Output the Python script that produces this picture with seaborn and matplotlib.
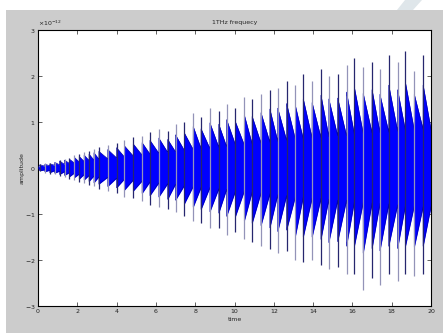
import numpy as np
import matplotlib
matplotlib.use("Agg")
import matplotlib.pyplot as plt
import seaborn as sns
from matplotlib.patches import Rectangle, Polygon

# burst onsets (time) and amplitudes, in units of 1e-12
onset = [0.1, 0.35, 0.6, 0.85, 1.1, 1.35, 1.6, 1.85, 2.1, 2.35, 2.6, 2.85,
         3.1, 3.55, 4.0, 4.4, 4.85, 5.3, 5.7, 6.15, 6.6, 7.0, 7.45, 7.9, 8.3,
         8.75, 9.2, 9.6, 10.05, 10.5, 10.9, 11.35, 11.8, 12.2, 12.65, 13.1,
         13.5, 13.95, 14.4, 14.8, 15.25, 15.7, 16.1, 16.55, 17.0, 17.4, 17.85,
         18.3, 18.7, 19.15, 19.6]
spike_hi = [0.08, 0.1, 0.1, 0.14, 0.18, 0.2, 0.22, 0.28, 0.3, 0.35, 0.38, 0.42,
            0.45, 0.5, 0.55, 0.6, 0.68, 0.7, 0.78, 0.85, 0.8, 0.95, 1.0, 1.2,
            1.1, 1.3, 1.25, 1.4, 1.3, 1.55, 1.5, 1.6, 1.7, 1.75, 1.9, 1.8,
            2.05, 1.9, 2.15, 2.0, 2.05, 2.25, 2.4, 2.2, 2.3, 2.15, 2.45, 2.3,
            2.55, 2.1, 2.45]
spike_lo = [-0.07, -0.1, -0.12, -0.13, -0.17, -0.2, -0.24, -0.26, -0.3, -0.32,
            -0.36, -0.4, -0.45, -0.5, -0.55, -0.62, -0.65, -0.72, -0.8, -0.85,
            -0.9, -0.95, -1.05, -1.15, -1.2, -1.3, -1.3, -1.45, -1.4, -1.55,
            -1.6, -1.7, -1.75, -1.85, -1.8, -2.0, -2.05, -2.0, -2.1, -2.2,
            -2.15, -2.3, -2.3, -2.65, -2.4, -2.55, -2.3, -2.45, -2.3, -2.35,
            -2.3]
fill_hi = [0.07, 0.08, 0.09, 0.12, 0.15, 0.17, 0.19, 0.23, 0.25, 0.28, 0.3,
           0.33, 0.36, 0.4, 0.44, 0.48, 0.52, 0.55, 0.6, 0.65, 0.62, 0.72,
           0.76, 0.9, 0.85, 0.98, 0.95, 1.05, 1.0, 1.15, 1.12, 1.2, 1.28, 1.3,
           1.4, 1.35, 1.5, 1.42, 1.58, 1.5, 1.52, 1.65, 1.75, 1.62, 1.7, 1.6,
           1.8, 1.7, 1.85, 1.6, 1.8]
fill_lo = [-0.06, -0.08, -0.1, -0.11, -0.14, -0.16, -0.19, -0.21, -0.24,
           -0.26, -0.29, -0.32, -0.35, -0.4, -0.43, -0.48, -0.5, -0.55, -0.6,
           -0.63, -0.68, -0.7, -0.78, -0.85, -0.9, -0.95, -0.98, -1.05, -1.05,
           -1.15, -1.2, -1.25, -1.3, -1.38, -1.35, -1.48, -1.5, -1.5, -1.55,
           -1.62, -1.6, -1.7, -1.7, -1.85, -1.75, -1.8, -1.7, -1.75, -1.7,
           -1.72, -1.7]
base = [0.04, 0.05, 0.06, 0.07, 0.08, 0.1, 0.11, 0.13, 0.14, 0.16, 0.17, 0.19,
        0.2, 0.22, 0.24, 0.26, 0.28, 0.3, 0.32, 0.34, 0.35, 0.38, 0.4, 0.42,
        0.42, 0.45, 0.46, 0.5, 0.5, 0.52, 0.54, 0.56, 0.58, 0.6, 0.62, 0.63,
        0.65, 0.66, 0.68, 0.7, 0.7, 0.73, 0.75, 0.76, 0.77, 0.78, 0.8, 0.81,
        0.82, 0.84, 0.84]
t_end = 20.0
scale = 1e-12

sns.set_style("ticks")
plt.rcParams["font.family"] = ["DejaVu Sans"]

fig = plt.figure(figsize=(4.43, 3.33), dpi=100)
fig.patch.set_facecolor("white")
W, H = 443, 333
fig.patches.append(Rectangle((6 / W, 0), 1, (H - 10) / H, transform=fig.transFigure,
                             facecolor="#cccccc", edgecolor="none", zorder=-5))
fig.patches.append(Polygon([(397 / W, 1 - 10 / H), (413 / W, 1 - 10 / H),
                            (422 / W, 1.0), (405 / W, 1.0)], closed=True,
                           transform=fig.transFigure, facecolor="#dfe6ea",
                           edgecolor="none", zorder=-5))

ax = fig.add_axes([38 / W, 1 - 306 / H, (431 - 38) / W, (306 - 30) / H])
ax.set_zorder(5)
ax.set_facecolor("white")

# envelope of each burst: jump to peak at onset, decay to base at next onset
ends = onset[1:] + [t_end]
xs, up, lo = [], [], []
for t0, t1, fh, fl, b in zip(onset, ends, fill_hi, fill_lo, base):
    xs += [t0, t1]
    up += [fh * scale, b * scale]
    lo += [fl * scale, -b * scale]
xs = [0.0] + xs
up = [0.0] + up
lo = [0.0] + lo

ax.fill_between(xs, lo, up, color="#0000ff", lw=0, zorder=2)
sns.lineplot(x=xs, y=up, ax=ax, color="#0000b0", lw=0.5, estimator=None, sort=False, zorder=3)
sns.lineplot(x=xs, y=lo, ax=ax, color="#0000b0", lw=0.5, estimator=None, sort=False, zorder=3)

spike_colors = ["#26266e", "#9393b8"]
for i, (t, h, l) in enumerate(zip(onset, spike_hi, spike_lo)):
    ax.vlines(t, l * scale, h * scale, color=spike_colors[i % 2], lw=0.9, zorder=4)

ax.set_xlim(0, 20)
ax.set_ylim(-3e-12, 3e-12)
ax.set_xticks(np.arange(0, 21, 2))
ax.set_yticks(np.arange(-3, 4, 1) * scale)
ax.ticklabel_format(axis="y", style="sci", scilimits=(0, 0), useMathText=True)
ax.yaxis.get_offset_text().set_fontsize(4.5)
ax.tick_params(direction="in", top=True, right=True, length=3, width=0.5,
               labelsize=4.5, colors="#222222", pad=2)
for s in ax.spines.values():
    s.set_linewidth(0.8)
    s.set_color("black")

ax.set_title("1THz frequecy", fontsize=4.5, pad=4)
ax.set_xlabel("time", fontsize=4.5, labelpad=2)
ax.set_ylabel("amplitude", fontsize=4.5, labelpad=0)

fig.savefig("out.png", dpi=100, facecolor=fig.get_facecolor())
